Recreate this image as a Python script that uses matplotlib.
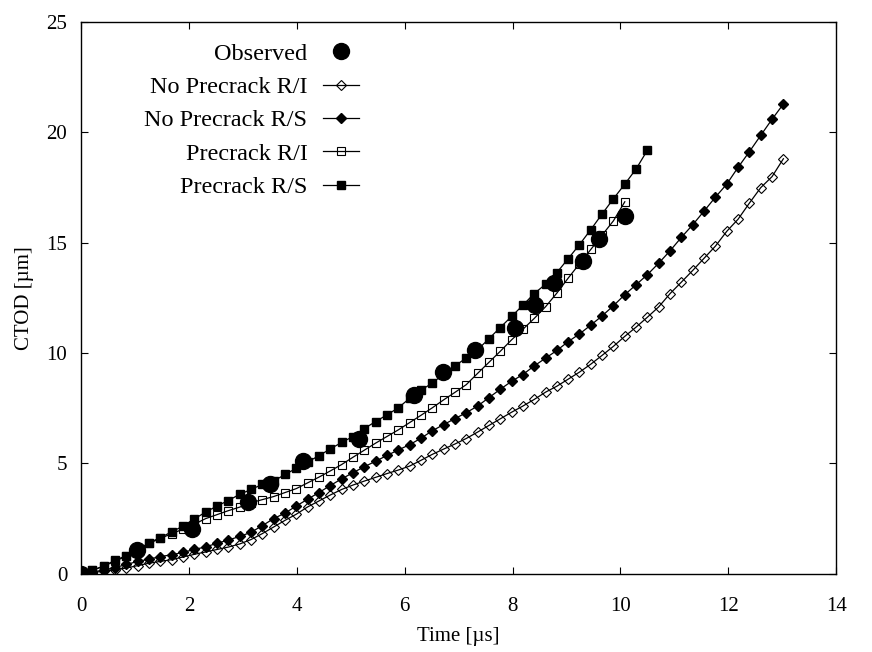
import numpy as np
import matplotlib
matplotlib.use("Agg")
import matplotlib.pyplot as plt

# ---------------- data ----------------
step = 0.21  # time spacing of the simulation markers [us]

obs_t = [0.0, 1.03, 2.05, 3.09, 3.5, 4.11, 5.15, 6.18, 6.71, 7.31, 8.05, 8.42, 8.76, 9.31, 9.6, 10.09]
obs_y = [0.0, 1.06, 2.02, 3.23, 4.05, 5.09, 6.1, 8.12, 9.16, 10.15, 11.15, 12.16, 13.17, 14.19, 15.17, 16.23]

np_ri = [0, 0.05, 0.12, 0.18, 0.26, 0.37, 0.48, 0.56, 0.64, 0.76, 0.88, 0.99, 1.1, 1.21, 1.35, 1.55,
         1.82, 2.12, 2.42, 2.7, 3.03, 3.3, 3.57, 3.82, 4.02, 4.2, 4.37, 4.54, 4.7, 4.88, 5.14, 5.41,
         5.65, 5.88, 6.13, 6.42, 6.72, 7.02, 7.32, 7.6, 7.9, 8.23, 8.5, 8.82, 9.14, 9.5, 9.9, 10.31,
         10.76, 11.18, 11.63, 12.1, 12.7, 13.22, 13.75, 14.3, 14.85, 15.52, 16.07, 16.8, 17.5, 18.0, 18.81]

np_rs = [0, 0.08, 0.17, 0.28, 0.42, 0.56, 0.66, 0.78, 0.86, 0.97, 1.1, 1.22, 1.38, 1.53, 1.69, 1.88,
         2.18, 2.5, 2.75, 3.07, 3.38, 3.68, 4.0, 4.3, 4.58, 4.85, 5.1, 5.36, 5.61, 5.85, 6.14, 6.48,
         6.76, 7.03, 7.3, 7.6, 7.98, 8.36, 8.72, 9.03, 9.42, 9.77, 10.12, 10.52, 10.87, 11.27, 11.69,
         12.15, 12.65, 13.1, 13.56, 14.08, 14.64, 15.25, 15.82, 16.44, 17.07, 17.66, 18.42, 19.13,
         19.87, 20.6, 21.29]

pc_ri = [0, 0.15, 0.35, 0.57, 0.8, 1.08, 1.38, 1.6, 1.82, 2.02, 2.25, 2.5, 2.68, 2.86, 3.02, 3.22,
         3.36, 3.5, 3.68, 3.86, 4.12, 4.38, 4.66, 4.95, 5.28, 5.6, 5.92, 6.22, 6.52, 6.85, 7.18, 7.52,
         7.88, 8.22, 8.57, 9.08, 9.58, 10.08, 10.6, 11.08, 11.57, 12.1, 12.72, 13.4, 14.05, 14.7,
         15.35, 16.0, 16.86]

pc_rs = [0, 0.16, 0.35, 0.61, 0.82, 1.1, 1.4, 1.64, 1.9, 2.16, 2.48, 2.8, 3.07, 3.32, 3.6, 3.82,
         4.05, 4.2, 4.5, 4.78, 5.07, 5.35, 5.66, 5.95, 6.22, 6.58, 6.9, 7.2, 7.52, 7.95, 8.32, 8.64,
         9.05, 9.42, 9.78, 10.15, 10.65, 11.16, 11.66, 12.17, 12.7, 13.12, 13.65, 14.28, 14.92, 15.6,
         16.31, 17.0, 17.66, 18.35, 19.2]

labels = ["Observed", "No Precrack R/I", "No Precrack R/S", "Precrack R/I", "Precrack R/S"]
x_ticks = [0, 2, 4, 6, 8, 10, 12, 14]
y_ticks = [0, 5, 10, 15, 20, 25]


def times(vals):
    return np.arange(len(vals)) * step


plt.rcParams['font.family'] = ['Liberation Serif', 'DejaVu Serif']

fig = plt.figure(figsize=(8.72, 6.52), dpi=100)
ax = fig.add_axes([0.093, 0.12, 0.866, 0.846])

lw = 0.9
ax.plot(obs_t, obs_y, linestyle='none', marker='o', ms=11.5, color='black', label=labels[0])
ax.plot(times(np_ri), np_ri, '-', color='black', lw=lw, marker='D', ms=5.5,
        mfc='none', mec='black', mew=0.8, label=labels[1])
ax.plot(times(np_rs), np_rs, '-', color='black', lw=lw, marker='D', ms=5.5,
        mfc='black', mec='black', label=labels[2])
ax.plot(times(pc_ri), pc_ri, '-', color='black', lw=lw, marker='s', ms=5.5,
        mfc='none', mec='black', mew=0.8, label=labels[3])
ax.plot(times(pc_rs), pc_rs, '-', color='black', lw=lw, marker='s', ms=5.5,
        mfc='black', mec='black', label=labels[4])

ax.set_xlim(0, 14)
ax.set_ylim(0, 25)
ax.set_xticks(x_ticks)
ax.set_yticks(y_ticks)
ax.tick_params(direction='in', length=5, width=0.8, top=True, right=True,
               labelsize=15)
ax.tick_params(axis='x', pad=17)
ax.tick_params(axis='y', pad=10)
for s in ax.spines.values():
    s.set_linewidth(1.0)

ax.set_xlabel("Time [µs]", fontsize=15, labelpad=7.5)
ax.set_ylabel("CTOD [µm]", fontsize=15, labelpad=9)

leg = ax.legend(loc='upper right', bbox_to_anchor=(0.368, 0.963), frameon=False,
                markerfirst=False, numpoints=1, fontsize=17.5, handlelength=1.5,
                handletextpad=0.62, labelspacing=0.47, borderaxespad=0.0,
                borderpad=0.0)
for t in leg.get_texts():
    t.set_ha('right')
leg._legend_box.align = 'right'

fig.savefig("out.png", dpi=100)
